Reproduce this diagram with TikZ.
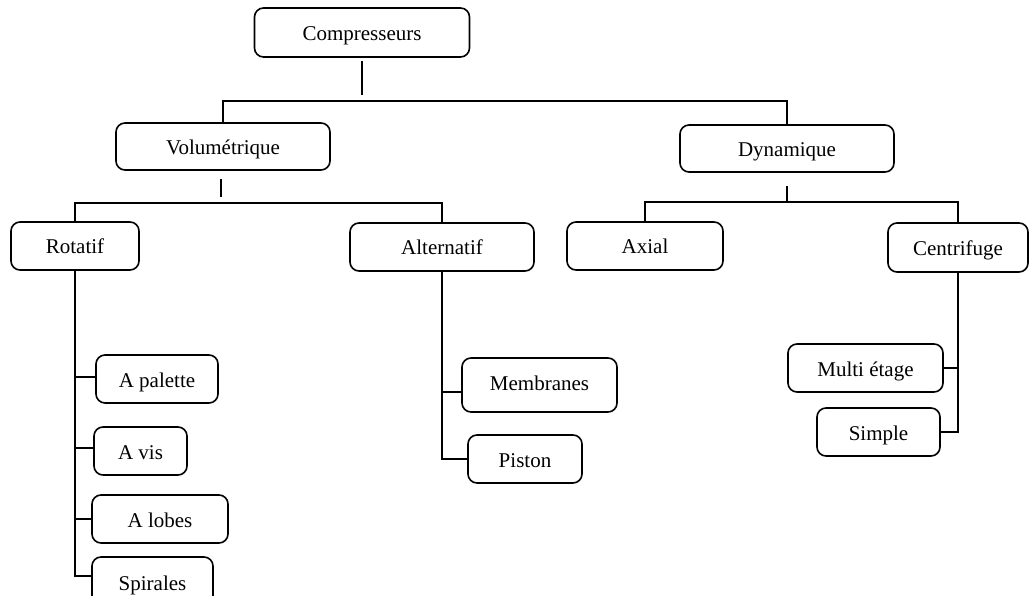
\documentclass[tikz,border=0pt]{standalone}
\usepackage{fontspec}
\setmainfont{Liberation Serif}
\begin{document}
\begin{tikzpicture}[x=1pt,y=-1pt,
  box/.style={draw, line width=1.6pt, rounded corners=9pt, inner sep=0pt,
    font=\fontsize{21}{25}\selectfont, text height=16pt, text depth=0pt},
  conn/.style={line width=1.6pt}]
\clip (0,0) rectangle (1029,596);
% boxes
\node[box, minimum width=215pt, minimum height=49pt] (comp) at (362,32.5) {Compresseurs};
\node[box, minimum width=214pt, minimum height=47pt] (vol) at (223,146.5) {Volumétrique};
\node[box, minimum width=214pt, minimum height=47pt] (dyn) at (787,148.5) {Dynamique};
\node[box, minimum width=128pt, minimum height=48pt] (rot) at (75,246) {Rotatif};
\node[box, minimum width=184pt, minimum height=48pt] (alt) at (442,247) {Alternatif};
\node[box, minimum width=156pt, minimum height=48pt] (axial) at (645,246) {Axial};
\node[box, minimum width=140pt, minimum height=49pt] (cent) at (958,247.5) {Centrifuge};
\node[box, minimum width=122pt, minimum height=48pt] (pal) at (157,379) {A palette};
\node[box, minimum width=93pt, minimum height=48pt] (vis) at (140.5,451) {A vis};
\node[box, minimum width=136pt, minimum height=48pt] (lob) at (160,519) {A lobes};
\node[box, minimum width=121pt, minimum height=52pt, text height=14pt] (spir) at (152.5,583) {Spirales};
\node[box, minimum width=155pt, minimum height=54pt, text height=10pt] (mem) at (539.5,385) {Membranes};
\node[box, minimum width=114pt, minimum height=48pt] (pis) at (525,459) {Piston};
\node[box, minimum width=155pt, minimum height=48pt] (mul) at (865.5,368) {Multi étage};
\node[box, minimum width=123pt, minimum height=48pt] (sim) at (878.5,432) {Simple};
% junctions
\coordinate (j1) at ([yshift=-43pt]comp.south);
\coordinate (j2) at ([yshift=-32pt]vol.south);
\coordinate (j3) at ([yshift=-29pt]dyn.south);
% top level
\draw[conn] ([yshift=-3pt]comp.south) -- ([yshift=-37pt]comp.south);
\draw[conn] (vol.north) |- (j1) -| (dyn.north);
% volumetrique
\draw[conn] ([yshift=-8pt,xshift=-2pt]vol.south) -- ([yshift=-26pt,xshift=-2pt]vol.south);
\draw[conn] (rot.north) |- (j2) -| (alt.north);
% dynamique
\draw[conn] ([yshift=-13pt]dyn.south) -- (j3);
\draw[conn] (axial.north) |- (j3) -| (cent.north);
% rotatif
\draw[conn] (rot.south) |- ([yshift=7pt]spir.west);
\draw[conn] ([yshift=2pt]pal.west) -- ([yshift=2pt]pal.west -| rot.south);
\draw[conn] ([yshift=3pt]vis.west) -- ([yshift=3pt]vis.west -| rot.south);
\draw[conn] (lob.west) -- (lob.west -| rot.south);
% alternatif
\draw[conn] (alt.south) |- (pis.west);
\draw[conn] ([yshift=-7pt]mem.west) -- ([yshift=-7pt]mem.west -| alt.south);
% centrifuge
\draw[conn] (cent.south) |- (sim.east);
\draw[conn] (mul.east) -- (mul.east -| cent.south);
\end{tikzpicture}
\end{document}
